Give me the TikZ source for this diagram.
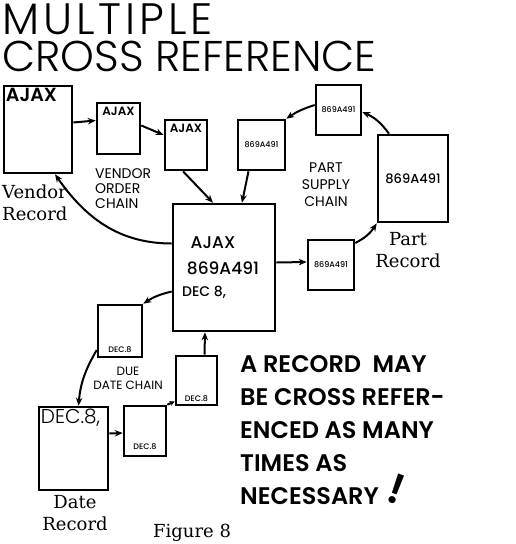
\documentclass[tikz,border=0pt]{standalone}
\usepackage{fontspec}
\newfontfamily\plite{Poppins Light}
\newfontfamily\preg{Poppins}
\newfontfamily\pmed{Poppins Medium}
\newfontfamily\pbold{Poppins SemiBold}
\newfontfamily\dser{DejaVu Serif}
\usetikzlibrary{arrows.meta}

\begin{document}
\begin{tikzpicture}[x=1pt,y=-1pt,
 rec/.style={draw,line width=2.6pt,inner sep=1pt},
 arr/.style={line width=2pt,-{Stealth[length=8pt,width=6.5pt]}},
 chn/.style={inner sep=0,font=\preg\fontsize{14}{15}\selectfont},
 tiny/.style={font=\pmed\fontsize{8}{8}\selectfont,inner sep=2pt},
 rlab/.style={inner sep=0,align=center,font=\dser\fontsize{18}{22}\selectfont}]
 \useasboundingbox (0,0) rectangle (515,544);
 % title
 \node[anchor=north west,inner sep=0,font=\plite\fontsize{44}{36}\selectfont\addfontfeature{LetterSpace=9}] (title1) at (2,3) {MULTIPLE};
 \node[anchor=north west,inner sep=0,font=\plite\fontsize{43}{36}\selectfont] (title2) at (2,41) {CROSS REFERENCE};
 % records and chains
 \node[rec,minimum width=68,minimum height=87,label={[anchor=north west,font=\pbold\fontsize{19}{19}\selectfont,inner sep=3pt]north west:AJAX}] (vrec) at (38,129.5) {};
 \node[rec,minimum width=43,minimum height=51,label={[anchor=north,font=\pbold\fontsize{12}{12}\selectfont,inner sep=5pt]north:AJAX}] (vo1) at (118.5,128.5) {};
 \node[rec,minimum width=42,minimum height=50,label={[anchor=north,font=\pbold\fontsize{12}{12}\selectfont,inner sep=5pt]north:AJAX}] (vo2) at (186,145) {};
 \node[rec,minimum width=102,minimum height=127] (cent) at (224,267.5) {};
 \node[font=\pmed\fontsize{17}{17}\selectfont] (cA) at (213,243) {AJAX};
 \node[font=\pmed\fontsize{17}{17}\selectfont] (cB) at (223,268) {869A491};
 \node[font=\pmed\fontsize{14}{14}\selectfont] (cC) at (204,292) {DEC 8,};
 \node[rec,tiny,minimum width=45,minimum height=50] (ps1) at (338.5,110) {869A491};
 \node[rec,tiny,minimum width=47,minimum height=50] (ps2) at (261.5,145) {869A491};
 \node[rec,minimum width=70,minimum height=87,font=\pmed\fontsize{13}{13}\selectfont] (prec) at (413,178.5) {869A491};
 \node[rec,tiny,minimum width=46,minimum height=50] (ps3) at (331,265) {869A491};
 \node[rec,minimum width=44,minimum height=52,label={[anchor=south,tiny,inner sep=5pt]south:DEC.8}] (dd1) at (120,331) {};
 \node[rec,minimum width=41,minimum height=49,label={[anchor=south,tiny,inner sep=4pt]south:DEC.8}] (dd2) at (196.5,380.5) {};
 \node[rec,minimum width=42,minimum height=50,label={[anchor=south,tiny,inner sep=7pt]south:DEC.8}] (dd3) at (145,431) {};
 \node[rec,minimum width=69,minimum height=83,label={[anchor=north west,font=\plite\fontsize{20}{20}\selectfont,inner sep=3pt]north west:DEC.8,}] (drec) at (73.5,448.5) {};
 % chain names
 \node[chn,anchor=north west,align=left] (vchn) at (95,168) {VENDOR\\ORDER\\CHAIN};
 \node[chn,anchor=north,align=center,font=\preg\fontsize{14}{17}\selectfont] (pchn) at (326,163) {PART\\SUPPLY\\CHAIN};
 \node[chn,anchor=north,align=center,font=\preg\fontsize{12}{14}\selectfont] (dchn) at (128,367) {DUE\\DATE CHAIN};
 \node[rlab,anchor=north west,align=left] (vlab) at (2,185) {Vendor\\Record};
 \node[rlab,anchor=north] (plab) at (408,232) {Part\\Record};
 \node[rlab,anchor=north] (dlab) at (75,495) {Date\\Record};
 \node[rlab,anchor=north west] (fig) at (153,524) {Figure 8};
 % note
 \node[anchor=north west,inner sep=0,align=left,font=\pbold\fontsize{24}{33}\selectfont] (note) at (240,355) {A RECORD\ \ MAY\\BE CROSS REFER-\\ENCED AS MANY\\TIMES AS\\NECESSARY};
 \node[rotate=-20,inner sep=0,font=\pbold\fontsize{42}{42}\selectfont] (excl) at (397,489) {!};
 % vendor order chain
 \draw[arr] ([yshift=7pt]vrec.east) -- ([yshift=8pt]vo1.west);
 \draw[arr] ([yshift=3pt]vo1.east) -- ([yshift=10pt]vo2.west);
 \draw[arr] ([xshift=-3pt]vo2.south) -- ([xshift=-11pt]cent.north);
 \draw[arr] ([yshift=24pt]cent.west) to[out=180,in=-55] ([xshift=17pt]vrec.south);
 % part supply chain
 \draw[arr] ([xshift=-24pt]prec.north) to[bend right=15] ([yshift=-2pt]ps1.east);
 \draw[arr] ([yshift=5pt]ps1.west) to[bend right=8] (ps2.north east);
 \draw[arr] ([xshift=-13pt]ps2.south) -- ([xshift=18pt]cent.north);
 \draw[arr] ([yshift=5pt]cent.east) -- ([yshift=3pt]ps3.west);
 \draw[arr] ([yshift=22pt]ps3.east) to[bend right=15] (prec.south west);
 % due date chain
 \draw[arr] ([yshift=-24pt]cent.west) to[bend right=10] (dd1.north east);
 \draw[arr] ([yshift=-19pt]dd1.west) to[out=240,in=85] ([xshift=5pt]drec.north);
 \draw[arr] ([yshift=15pt]drec.east) -- ([yshift=-2pt]dd3.west);
 \draw[line width=2pt,-{Stealth[length=5pt,width=5pt]}] (dd3.north east) -- ([yshift=-21pt]dd2.west);
 \draw[arr] ([xshift=8pt]dd2.north) -- ([xshift=-19pt]cent.south);
\end{tikzpicture}
\end{document}
